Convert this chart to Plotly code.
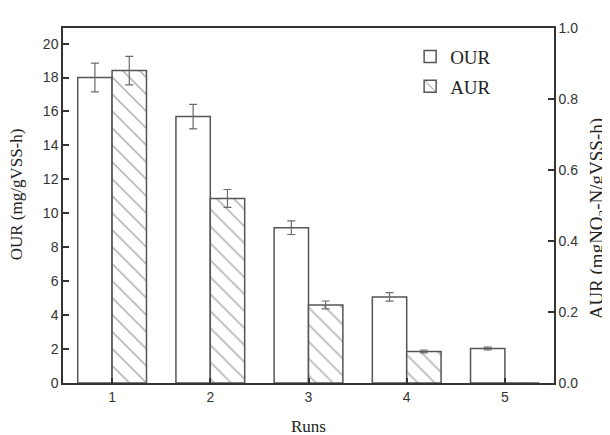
import plotly.graph_objects as go

runs = [1, 2, 3, 4, 5]
our_values = [18.0, 15.7, 9.15, 5.07, 2.03]
our_errors = [0.85, 0.72, 0.40, 0.25, 0.08]
aur_values = [0.88, 0.52, 0.22, 0.089, 0.0]
aur_errors = [0.040, 0.025, 0.011, 0.004, 0.0]

left_ticks = [0, 2, 4, 6, 8, 10, 12, 14, 16, 18, 20]
right_ticks = [0.0, 0.2, 0.4, 0.6, 0.8, 1.0]

x_title = "Runs"
left_title = "OUR (mg/gVSS-h)"
right_title = "AUR (mgNO<sub>3</sub>-N/gVSS-h)"

axis_col = "#333333"
bar_line = "#555555"
err_col = "#6a6a6a"
serif = "Liberation Serif, Times New Roman, serif"
sans = "Liberation Sans, Arial, sans-serif"

fig = go.Figure()
fig.add_trace(go.Bar(
    x=runs, y=our_values, name="OUR", yaxis="y", legendgroup="our",
    width=0.35, offset=-0.35,
    marker=dict(color="white", line=dict(color=bar_line, width=1.5)),
    error_y=dict(type="data", array=our_errors, color=err_col, thickness=1.2, width=4),
))
fig.add_trace(go.Bar(
    x=runs, y=aur_values, name="AUR", yaxis="y2", legendgroup="aur",
    width=0.35, offset=0.0,
    marker=dict(color="white", line=dict(color=bar_line, width=1.5),
                pattern=dict(shape="\\", fgcolor="#555555", bgcolor="white",
                             size=12, solidity=0.12)),
    error_y=dict(type="data", array=aur_errors, color=err_col, thickness=1.2, width=4),
))

# the page body adds an 8 px offset, so the figure is 8 px smaller and margins shifted
fig.update_layout(
    width=602, height=427,
    margin=dict(l=55, r=56, t=12, b=52),
    paper_bgcolor="white", plot_bgcolor="white",
    barmode="overlay",
    showlegend=True,
    legend=dict(x=0.707, y=0.973, xanchor="left", yanchor="top",
                font=dict(family=serif, size=19, color="#222222"),
                bgcolor="rgba(0,0,0,0)", tracegroupgap=2),
    xaxis=dict(
        range=[0.5, 5.5], tickmode="array", tickvals=runs,
        ticktext=[str(r) for r in runs],
        showline=True, linecolor=axis_col, linewidth=1.5, mirror=True,
        ticks="inside", ticklen=5, tickcolor=axis_col, tickwidth=1.5,
        showgrid=False, zeroline=False,
        tickfont=dict(family=sans, size=14, color="#333333"),
    ),
    yaxis=dict(
        range=[0, 20.92], tickmode="array", tickvals=left_ticks,
        showline=True, linecolor=axis_col, linewidth=1.5,
        ticks="inside", ticklen=6, tickcolor=axis_col, tickwidth=1.5,
        showgrid=False, zeroline=False,
        tickfont=dict(family=sans, size=14, color="#333333"),
    ),
    yaxis2=dict(
        range=[0, 1.0], overlaying="y", side="right", anchor="x",
        tickmode="array", tickvals=right_ticks, tickformat=".1f",
        showline=True, linecolor=axis_col, linewidth=1.5,
        ticks="inside", ticklen=6, tickcolor=axis_col, tickwidth=1.5,
        showgrid=False, zeroline=False,
        tickfont=dict(family=sans, size=14, color="#333333"),
    ),
    annotations=[
        dict(text=x_title, xref="paper", yref="paper", x=0.5, y=-0.123,
             xanchor="center", yanchor="middle", showarrow=False,
             font=dict(family=serif, size=17, color="#222222")),
        dict(text=left_title, xref="paper", yref="paper", x=-0.094, y=0.531,
             xanchor="center", yanchor="middle", textangle=-90, showarrow=False,
             font=dict(family=serif, size=17, color="#222222")),
        dict(text=right_title, xref="paper", yref="paper", x=1.089, y=0.463,
             xanchor="center", yanchor="middle", textangle=-90, showarrow=False,
             font=dict(family=serif, size=19, color="#222222")),
    ],
)

fig.write_html("out.html")
